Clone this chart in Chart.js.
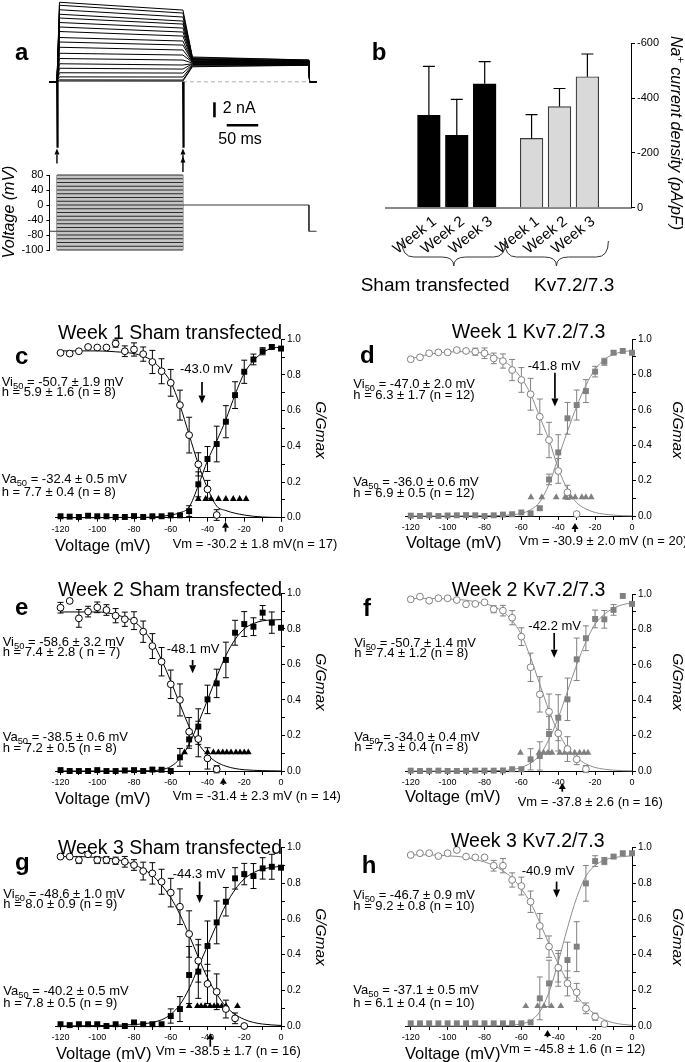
<!DOCTYPE html>
<html>
<head>
<meta charset="utf-8">
<title>Na+ current density and G/Gmax curves</title>
<script src="https://cdn.jsdelivr.net/npm/chart.js"></script>
<style>
  html, body { margin: 0; padding: 0; background: #fff; }
  body { position: relative; width: 685px; height: 1062px; overflow: hidden; font-family: Arial, "Liberation Sans", Helvetica, sans-serif; }
  canvas { position: absolute; }
  .t { position: absolute; white-space: nowrap; line-height: 1; transform-origin: 0 0; color: #000; }
  .sub { font-size: 0.72em; vertical-align: -0.3em; line-height: 0; }
  .sup { font-size: 0.7em; vertical-align: 0.5em; line-height: 0; }
</style>
</head>
<body>
<script>
// ---------- panel a: K+ current family (nA) and step protocol (mV) ----------
const stepPeak = [10.6, 10.2, 9.6, 9.0, 8.5, 7.9, 7.3, 6.7, 5.9, 5.3, 4.6, 3.8, 3.1, 2.4, 1.8, 1.2, 0.65, 0.25, 0.1];
const stepEnd = [9.56, 9.16, 8.63, 8.09, 7.69, 7.16, 6.63, 6.09, 5.43, 4.89, 4.23, 3.56, 2.89, 2.23, 1.69, 1.16, 0.63, 0.23, 0.09];
const tailStart = [3.3, 3.2, 3.1, 3.0, 3.0, 2.9, 2.9, 2.8, 2.7, 2.7, 2.6, 2.6, 2.5, 2.4, 2.4, 2.3, 2.2, 2.1, 2.0];
const tailEnd = [2.9, 2.9, 2.8, 2.8, 2.7, 2.7, 2.7, 2.6, 2.6, 2.6, 2.5, 2.5, 2.4, 2.4, 2.4, 2.3, 2.3, 2.2, 2.2];
const naSpike = [-8.7, -8.7];
const stepVolts = [-120, -110, -100, -90, -80, -70, -60, -50, -40, -30, -20, -10, 0, 10, 20, 30, 40, 50, 60, 70, 80];
const holdV = -70;
const postV = 0;
const protoTimes = [-12, 0, 200, 400, 412];
const protoTicks = [-120, -80, -40, 0, 40, 80];
const protoTickLabels = ['-100', '-80', '-40', '0', '40', '80'];

// ---------- panel b: Na+ current density (pA/pF) ----------
const weekLabels = ['Week 1', 'Week 2', 'Week 3'];
const groupLabels = ['Sham transfected', 'Kv7.2/7.3'];
const shamDensity = [-337, -264, -452];
const shamDensityErr = [179, 131, 81];
const kvDensity = [-253, -369, -478];
const kvDensityErr = [87, 66, 83];
const densityTicks = [-600, -400, -200, 0];

// ---------- panels c-h: G/Gmax vs voltage ----------
const vSteps = [-120, -115, -110, -105, -100, -95, -90, -85, -80, -75, -70, -65, -60, -55, -50, -45, -40, -35, -30, -25, -20, -15, -10, -5, 0];
const fitV = [-120, -110, -100, -90, -80, -75, -70, -65, -60, -55, -50, -45, -40, -35, -30, -25, -20, -15, -10, -5, 0];
const ivXTicks = [-120, -110, -100, -90, -80, -70, -60, -50, -40, -30, -20, -10, 0];
const ivYTicks = [0, 0.1, 0.2, 0.3, 0.4, 0.5, 0.6, 0.7, 0.8, 0.9, 1.0];
const junctionV = [-43.0, -41.8, -48.1, -42.2, -44.3, -40.9];
const restVm = [-30.2, -30.9, -31.4, -37.8, -38.5, -45.8];

// c: week 1 sham
const cInact = [0.924, 0.920, 0.933, 0.957, 0.954, 0.954, 0.976, 0.933, 0.943, 0.917, 0.873, 0.821, 0.756, 0.631, 0.463, 0.299, 0.159, 0.015];
const cInactErr = [0, 0, 0, 0, 0, 0, 0.02, 0.03, 0.037, 0.04, 0.065, 0.07, 0.075, 0.084, 0.1, 0.065, 0.05, 0.03];
const cAct = [0.008, 0.006, 0.004, 0.011, 0.008, 0.008, 0.004, 0.004, 0.009, 0.004, 0.008, 0.008, 0.013, 0.013, 0.037, 0.187, 0.329, 0.413, 0.538, 0.687, 0.818, 0.887, 0.933, 0.957, 0.948];
const cActErr = [0, 0, 0, 0, 0, 0, 0, 0, 0, 0, 0, 0, 0, 0.01, 0.03, 0.07, 0.07, 0.1, 0.09, 0.075, 0.065, 0.03, 0.02, 0.01, 0];
const cTriV = [-45, -41, -38, -34, -30, -26, -22.5, -19];
const cTriY = [0.105, 0.105, 0.105, 0.105, 0.105, 0.105, 0.105, 0.105];
const cInactFit = [0.935, 0.935, 0.935, 0.93, 0.92, 0.905, 0.88, 0.83, 0.76, 0.63, 0.465, 0.30, 0.165, 0.065, 0.04, 0.025, 0.015, 0.008, 0.004, 0.002, 0.001];
const cActFit = [0, 0, 0, 0.001, 0.002, 0.002, 0.003, 0.008, 0.015, 0.028, 0.06, 0.18, 0.32, 0.43, 0.55, 0.69, 0.81, 0.88, 0.925, 0.95, 0.955];

// d: week 1 Kv7.2/7.3
const dInact = [0.887, 0.898, 0.921, 0.926, 0.926, 0.939, 0.934, 0.930, 0.921, 0.892, 0.877, 0.826, 0.770, 0.689, 0.562, 0.430, 0.255, 0.134, 0.011];
const dInactErr = [0, 0, 0, 0, 0, 0, 0.01, 0.02, 0.03, 0.03, 0.04, 0.06, 0.07, 0.09, 0.1, 0.1, 0.07, 0.04, 0];
const dAct = [0.002, 0, 0.004, 0, 0.003, 0.004, 0.005, 0.004, 0, 0.004, 0.008, 0.01, 0.02, 0.015, 0.044, 0.207, 0.36, 0.553, 0.628, 0.707, 0.817, 0.873, 0.924, 0.934, 0.924];
const dActErr = [0, 0, 0, 0, 0, 0, 0, 0, 0, 0, 0, 0, 0, 0, 0.01, 0.03, 0.1, 0.09, 0.085, 0.065, 0.03, 0.02, 0.01, 0, 0];
const dTriV = [-54.8, -48.9, -41.1, -36.2, -33.3, -30.8, -27.2, -25, -22.1];
const dTriY = [0.106, 0.106, 0.106, 0.106, 0.106, 0.106, 0.106, 0.106, 0.106];
const dInactFit = [0.89, 0.915, 0.928, 0.93, 0.92, 0.905, 0.88, 0.84, 0.78, 0.69, 0.56, 0.43, 0.27, 0.15, 0.075, 0.04, 0.02, 0.01, 0.005, 0.002, 0.001];
const dActFit = [0, 0, 0, 0.001, 0.002, 0.002, 0.003, 0.007, 0.015, 0.035, 0.08, 0.18, 0.33, 0.48, 0.62, 0.74, 0.83, 0.885, 0.915, 0.93, 0.935];

// e: week 2 sham
const eInact = [0.919, 0.957, 0.859, 0.897, 0.921, 0.906, 0.874, 0.854, 0.846, 0.784, 0.703, 0.615, 0.488, 0.400, 0.221, 0.180, 0.071, 0.010];
const eInactErr = [0.03, 0, 0.05, 0.03, 0.03, 0.03, 0.04, 0.04, 0.05, 0.06, 0.07, 0.08, 0.08, 0.09, 0.08, 0.1, 0.06, 0.02];
const eAct = [0.005, 0, 0, 0, 0.005, 0, 0, 0.003, 0.005, 0, 0.008, 0.007, 0, 0.077, 0.178, 0.25, 0.403, 0.493, 0.625, 0.778, 0.827, 0.812, 0.891, 0.835, 0.806];
const eActErr = [0, 0, 0, 0, 0, 0, 0, 0, 0, 0, 0, 0, 0, 0.05, 0.05, 0.1, 0.08, 0.08, 0.1, 0.07, 0.07, 0.05, 0.04, 0.06, 0];
const eTriV = [-52.5, -40, -36.8, -34.1, -31.7, -29.5, -27.2, -24.5, -22.3, -20, -17.8];
const eTriY = [0.105, 0.105, 0.105, 0.105, 0.105, 0.105, 0.105, 0.105, 0.105, 0.105, 0.105];
const eInactFit = [0.895, 0.895, 0.895, 0.88, 0.84, 0.795, 0.725, 0.625, 0.505, 0.375, 0.25, 0.155, 0.09, 0.05, 0.027, 0.014, 0.007, 0.004, 0.002, 0.001, 0];
const eActFit = [0, 0, 0, 0, 0.001, 0.001, 0.002, 0.008, 0.025, 0.07, 0.15, 0.27, 0.40, 0.53, 0.65, 0.74, 0.80, 0.83, 0.845, 0.85, 0.852];

// f: week 2 Kv7.2/7.3
const fInact = [0.970, 0.985, 0.962, 0.976, 0.976, 0.966, 0.942, 0.944, 0.953, 0.914, 0.906, 0.866, 0.759, 0.586, 0.433, 0.335, 0.213, 0.124, 0.066, 0.011];
const fInactErr = [0, 0, 0, 0, 0, 0, 0, 0, 0, 0.02, 0.03, 0.04, 0.05, 0.08, 0.1, 0.1, 0.1, 0.07, 0.03, 0.02];
const fAct = [0.002, 0, 0.001, 0.002, 0, 0, 0.001, 0.002, 0.002, 0.002, 0.003, 0.01, 0.01, 0.066, 0.085, 0.209, 0.301, 0.405, 0.631, 0.75, 0.859, 0.857, 0.91, 0.989, 0.944];
const fActErr = [0, 0, 0, 0, 0, 0, 0, 0, 0, 0, 0, 0, 0, 0.06, 0.08, 0.1, 0.13, 0.12, 0.12, 0.07, 0.05, 0.05, 0.03, 0, 0];
const fTriV = [-60.5, -50.4, -47.9, -45.5, -43.4, -39.2, -36.5, -33.8, -31.1, -28.4, -26, -23.9];
const fTriY = [0.103, 0.103, 0.103, 0.103, 0.103, 0.103, 0.103, 0.103, 0.103, 0.103, 0.103, 0.103];
const fInactFit = [0.975, 0.975, 0.972, 0.965, 0.945, 0.93, 0.90, 0.85, 0.77, 0.64, 0.49, 0.34, 0.22, 0.13, 0.075, 0.04, 0.02, 0.01, 0.005, 0.002, 0.001];
const fActFit = [0, 0, 0, 0, 0.001, 0.002, 0.003, 0.008, 0.02, 0.045, 0.09, 0.18, 0.30, 0.45, 0.60, 0.73, 0.83, 0.885, 0.92, 0.94, 0.95];

// g: week 3 sham
const gInact = [0.950, 0.950, 0.931, 0.963, 0.931, 0.931, 0.927, 0.921, 0.903, 0.869, 0.856, 0.809, 0.748, 0.669, 0.516, 0.366, 0.236, 0.192, 0.095, 0.043, 0.0];
const gInactErr = [0, 0, 0.02, 0, 0.02, 0.02, 0.02, 0.03, 0.03, 0.05, 0.06, 0.07, 0.08, 0.1, 0.13, 0.12, 0.11, 0.1, 0.05, 0.03, 0];
const gAct = [0.01, 0.005, 0.01, 0.01, 0.01, 0, 0.01, 0, 0.02, 0.01, 0.01, 0.01, 0.056, 0.095, 0.286, 0.305, 0.449, 0.581, 0.697, 0.828, 0.852, 0.841, 0.884, 0.893, 0.888];
const gActErr = [0, 0, 0, 0, 0, 0, 0, 0, 0, 0, 0, 0, 0.04, 0.07, 0.16, 0.15, 0.14, 0.12, 0.08, 0.06, 0.06, 0.07, 0.06, 0.07, 0];
const gTriV = [-50, -45.5, -43.5, -41.3, -38.6, -36.4, -34.4, -32.2, -29.9, -23.7];
const gTriY = [0.112, 0.112, 0.112, 0.112, 0.112, 0.112, 0.112, 0.112, 0.112, 0.112];
const gInactFit = [0.95, 0.95, 0.945, 0.935, 0.905, 0.88, 0.845, 0.79, 0.72, 0.625, 0.51, 0.385, 0.27, 0.18, 0.11, 0.065, 0.037, 0.02, 0.011, 0.006, 0.003];
const gActFit = [0, 0.001, 0.002, 0.004, 0.008, 0.012, 0.02, 0.035, 0.065, 0.12, 0.21, 0.33, 0.45, 0.57, 0.68, 0.765, 0.825, 0.86, 0.88, 0.89, 0.895];

// h: week 3 Kv7.2/7.3
const hInact = [0.959, 0.969, 0.969, 0.953, 0.969, 0.987, 0.950, 0.946, 0.946, 0.899, 0.899, 0.819, 0.785, 0.697, 0.561, 0.445, 0.327, 0.239, 0.189, 0.099, 0.052, 0.011];
const hInactErr = [0, 0, 0, 0, 0, 0, 0, 0, 0, 0.03, 0.04, 0.04, 0.05, 0.06, 0.07, 0.06, 0.08, 0.07, 0.05, 0.03, 0.02, 0];
const hAct = [0.015, 0.015, 0.015, 0.015, 0.015, 0.015, 0.015, 0.015, 0.015, 0.015, 0.015, 0.015, 0.015, 0.02, 0.155, 0.239, 0.323, 0.37, 0.445, 0.80, 0.925, 0.925, 0.95, 0.969, 0.969];
const hActErr = [0, 0, 0, 0, 0, 0, 0, 0, 0, 0, 0, 0, 0, 0, 0.12, 0.13, 0.1, 0.1, 0.14, 0.1, 0.03, 0.02, 0.01, 0, 0];
const hTriV = [-57.6, -51.2, -47.7, -43.7, -38.6];
const hTriY = [0.112, 0.112, 0.112, 0.112, 0.112];
const hInactFit = [0.96, 0.96, 0.955, 0.945, 0.92, 0.90, 0.87, 0.83, 0.77, 0.69, 0.58, 0.46, 0.35, 0.25, 0.17, 0.11, 0.065, 0.035, 0.018, 0.009, 0.004];
const hActFit = [0, 0, 0, 0, 0.001, 0.001, 0.002, 0.005, 0.012, 0.03, 0.08, 0.19, 0.36, 0.55, 0.72, 0.84, 0.90, 0.93, 0.945, 0.95, 0.955];

// ---------- setup ----------
Chart.defaults.font.family = 'Arial, "Liberation Sans", Helvetica, sans-serif';
Chart.defaults.color = '#000';
Chart.defaults.animation = false;
Chart.defaults.responsive = false;
Chart.defaults.plugins.legend.display = false;
Chart.defaults.plugins.tooltip.enabled = false;

function makeCanvas(left, top, w, h) {
  const c = document.createElement('canvas');
  c.width = w;
  c.height = h;
  c.style.left = left + 'px';
  c.style.top = top + 'px';
  c.style.width = w + 'px';
  c.style.height = h + 'px';
  document.body.appendChild(c);
  return c;
}

function arrow(ctx, x, yTail, yTip, headLen, headW) {
  const dir = Math.sign(yTip - yTail);
  ctx.beginPath();
  ctx.moveTo(x, yTail);
  ctx.lineTo(x, yTip - dir * headLen);
  ctx.stroke();
  ctx.beginPath();
  ctx.moveTo(x, yTip);
  ctx.lineTo(x - headW / 2, yTip - dir * headLen);
  ctx.lineTo(x + headW / 2, yTip - dir * headLen);
  ctx.closePath();
  ctx.fill();
}

// text helper: y is the baseline unless rotated (then x,y is the centre)
function txt(html, x, y, o) {
  o = o || {};
  const fs = o.size || 13;
  const d = document.createElement('div');
  d.className = 't';
  d.innerHTML = html;
  d.style.fontSize = fs + 'px';
  if (o.bold) d.style.fontWeight = 'bold';
  if (o.italic) d.style.fontStyle = 'italic';
  d.style.left = x + 'px';
  if (o.rot) {
    d.style.top = y + 'px';
    d.style.transform = 'rotate(' + o.rot + 'deg) translate(-50%, -50%)';
  } else {
    d.style.top = (y - 0.8465 * fs) + 'px';
    const ax = { s: 0, m: 50, e: 100 }[o.anchor || 's'];
    d.style.transform = 'translateX(-' + ax + '%)';
  }
  document.body.appendChild(d);
}

// ---------- panel a: traces ----------
const traceExtras = {
  id: 'traceExtras',
  afterDraw(chart, args, o) {
    const ctx = chart.ctx, xs = chart.scales.x, ys = chart.scales.y;
    ctx.save();
    ctx.strokeStyle = ctx.fillStyle = '#000';
    // 2 nA / 50 ms scale bars
    ctx.lineWidth = 2.6;
    const vx = xs.getPixelForValue(o.barT);
    ctx.beginPath();
    ctx.moveTo(vx, ys.getPixelForValue(o.barI));
    ctx.lineTo(vx, ys.getPixelForValue(o.barI + o.nA));
    ctx.stroke();
    const hy = ys.getPixelForValue(o.barI2);
    ctx.beginPath();
    ctx.moveTo(xs.getPixelForValue(o.barT2), hy);
    ctx.lineTo(xs.getPixelForValue(o.barT2 + o.ms), hy);
    ctx.stroke();
    // arrows under the step edges
    ctx.lineWidth = 1.4;
    const x0 = xs.getPixelForValue(protoTimes[1]);
    const x1 = xs.getPixelForValue(protoTimes[2]);
    arrow(ctx, x0, 163.5, 148.5, 6, 5);
    arrow(ctx, x1, 172, 148.5, 6, 5);
    arrow(ctx, x1, 160, 156.5, 6, 5);
    ctx.restore();
  }
};

const traceSets = stepPeak.map((pk, i) => ({
  data: [
    { x: protoTimes[0], y: 0 }, { x: protoTimes[1], y: 0 }, { x: 4, y: pk },
    { x: protoTimes[2], y: stepEnd[i] }, { x: 215, y: tailStart[i] },
    { x: protoTimes[3], y: tailEnd[i] }, { x: protoTimes[3] + 1, y: 0 }, { x: protoTimes[4], y: 0 }
  ],
  borderColor: '#000', borderWidth: 1, pointRadius: 0
}));
traceSets.push({ data: [{ x: -0.3, y: 0 }, { x: 0.4, y: naSpike[0] }, { x: 1.5, y: 0 }], borderColor: '#000', borderWidth: 1.5, pointRadius: 0 });
traceSets.push({ data: [{ x: 199.7, y: 0 }, { x: 200.4, y: naSpike[1] }, { x: 201.5, y: 0 }], borderColor: '#000', borderWidth: 1.5, pointRadius: 0 });
traceSets.push({ data: [{ x: protoTimes[2], y: 0 }, { x: protoTimes[4], y: 0 }], borderColor: '#b0b0b0', borderDash: [4, 3], borderWidth: 1, pointRadius: 0 });

new Chart(makeCanvas(0, 0, 345, 180), {
  type: 'line',
  data: { datasets: traceSets },
  options: {
    layout: { padding: { left: 49.4, right: 28.5, top: 0, bottom: 30 } },
    datasets: { line: { clip: false } },
    scales: {
      x: { type: 'linear', min: -12, max: 412, display: false },
      y: { type: 'linear', min: -9.1, max: 10.9, display: false }
    },
    plugins: { traceExtras: { barT: 250, barI: -4.74, nA: 2, barT2: 269.5, barI2: -5.8, ms: 50 } }
  },
  plugins: [traceExtras]
});

// ---------- panel a: protocol ----------
const protoSets = stepVolts.map(v => ({
  data: [{ x: protoTimes[1], y: v }, { x: protoTimes[2], y: v }],
  borderColor: '#2a2a2a', borderWidth: 1, pointRadius: 0
}));
protoSets[protoSets.length - 1].fill = 0;
protoSets[protoSets.length - 1].backgroundColor = '#c4c4c4';
protoSets.push({ data: [{ x: protoTimes[1], y: stepVolts[0] }, { x: protoTimes[1], y: stepVolts[stepVolts.length - 1] }], borderColor: '#555', borderWidth: 1, pointRadius: 0 });
protoSets.push({ data: [{ x: protoTimes[2], y: stepVolts[0] }, { x: protoTimes[2], y: stepVolts[stepVolts.length - 1] }], borderColor: '#555', borderWidth: 1, pointRadius: 0 });
protoSets.push({ data: [{ x: protoTimes[0], y: holdV }, { x: protoTimes[1], y: holdV }], borderColor: '#333', borderWidth: 1, pointRadius: 0 });
protoSets.push({ data: [{ x: protoTimes[2], y: postV }, { x: protoTimes[3], y: postV }, { x: protoTimes[3], y: holdV }, { x: protoTimes[4], y: holdV }], borderColor: '#333', borderWidth: 1, pointRadius: 0 });

new Chart(makeCanvas(0, 150, 345, 110), {
  type: 'line',
  data: { datasets: protoSets },
  options: {
    layout: { padding: { left: 19.4, right: 28.5, top: 25, bottom: 10 } },
    datasets: { line: { clip: false } },
    scales: {
      x: { type: 'linear', min: -12, max: 412, display: false },
      y: {
        type: 'linear', min: -120, max: 80,
        afterBuildTicks: s => { s.ticks = protoTicks.map(v => ({ value: v })); },
        ticks: { callback: (v, i) => protoTickLabels[i], font: { size: 11 }, padding: 3, autoSkip: false },
        grid: { drawOnChartArea: false, tickLength: 3, color: '#000' },
        border: { color: '#000' },
        afterFit: s => { s.width = 30; }
      }
    }
  }
});

// ---------- panel b: bars ----------
const groupShift = 3.68;
const barPos = (g, i) => 1 + i + g * groupShift;
const barTicks = [0, 1].flatMap(g => weekLabels.map((w, i) => barPos(g, i)));
const barTickLabels = [0, 1].flatMap(() => weekLabels);

const barExtras = {
  id: 'barExtras',
  afterDatasetsDraw(chart) {
    const ctx = chart.ctx, ys = chart.scales.y, xs = chart.scales.x;
    ctx.save();
    ctx.strokeStyle = '#000';
    ctx.lineWidth = 1.2;
    chart.data.datasets.forEach((ds, i) => {
      chart.getDatasetMeta(i).data.forEach((bar, j) => {
        const top = ys.getPixelForValue(ds.data[j].y - ds.errs[j]);
        ctx.beginPath();
        ctx.moveTo(bar.x, bar.y);
        ctx.lineTo(bar.x, top);
        ctx.moveTo(bar.x - 6, top);
        ctx.lineTo(bar.x + 6, top);
        ctx.stroke();
      });
    });
    // group braces
    ctx.strokeStyle = '#333';
    ctx.lineWidth = 1;
    [0, 1].forEach(g => {
      const x0 = xs.getPixelForValue(barPos(g, 0)) - 27;
      const x1 = xs.getPixelForValue(barPos(g, 2)) + 21;
      const cx = (x0 + x1) / 2, yT = 241, yM = 257, yP = 266;
      ctx.beginPath();
      ctx.moveTo(x0, yT);
      ctx.quadraticCurveTo(x0, yM, x0 + 12, yM);
      ctx.lineTo(cx - 12, yM);
      ctx.quadraticCurveTo(cx, yM, cx, yP);
      ctx.quadraticCurveTo(cx, yM, cx + 12, yM);
      ctx.lineTo(x1 - 12, yM);
      ctx.quadraticCurveTo(x1, yM, x1, yT);
      ctx.stroke();
    });
    ctx.restore();
  }
};

new Chart(makeCanvas(345, 0, 340, 300), {
  type: 'bar',
  data: {
    datasets: [
      { data: shamDensity.map((v, i) => ({ x: barPos(0, i), y: v })), errs: shamDensityErr, backgroundColor: '#000', borderColor: '#000', borderWidth: 1 },
      { data: kvDensity.map((v, i) => ({ x: barPos(1, i), y: v })), errs: kvDensityErr, backgroundColor: '#d9d9d9', borderColor: '#3a3a3a', borderWidth: 1.2 }
    ]
  },
  options: {
    layout: { padding: { left: 40.7, right: 14, top: 43.3, bottom: 32.3 } },
    datasets: { bar: { barThickness: 22.7, grouped: false } },
    scales: {
      x: {
        type: 'linear', min: 0.185, max: 7.51,
        afterBuildTicks: s => { s.ticks = barTicks.map(v => ({ value: v })); },
        ticks: { callback: (v, i) => barTickLabels[i], minRotation: 38, maxRotation: 38, autoSkip: false, font: { size: 15 }, padding: -3, labelOffset: 6 },
        grid: { display: false },
        border: { color: '#888', width: 2 },
        afterFit: s => { s.height = 60; }
      },
      y: {
        position: 'right', min: -600, max: 0, reverse: true,
        afterBuildTicks: s => { s.ticks = densityTicks.map(v => ({ value: v })); },
        ticks: { font: { size: 11 }, padding: 2 },
        grid: { drawOnChartArea: false, tickLength: 4, color: '#000' },
        border: { color: '#000' },
        afterFit: s => { s.width = 40; }
      }
    }
  },
  plugins: [barExtras]
});

// ---------- panels c-h ----------
const ivExtras = {
  id: 'ivExtras',
  beforeDatasetsDraw(chart, args, o) {
    const ctx = chart.ctx, ys = chart.scales.y;
    ctx.save();
    ctx.strokeStyle = o.color;
    ctx.lineWidth = 1;
    chart.data.datasets.forEach((ds, i) => {
      if (!ds.errs) return;
      chart.getDatasetMeta(i).data.forEach((pt, j) => {
        const e = ds.errs[j];
        if (!e) return;
        const v = ds.data[j].y;
        const y1 = ys.getPixelForValue(v + e), y2 = ys.getPixelForValue(v - e);
        ctx.beginPath();
        ctx.moveTo(pt.x, y1); ctx.lineTo(pt.x, y2);
        ctx.moveTo(pt.x - 3, y1); ctx.lineTo(pt.x + 3, y1);
        ctx.moveTo(pt.x - 3, y2); ctx.lineTo(pt.x + 3, y2);
        ctx.stroke();
      });
    });
    ctx.restore();
  },
  afterDraw(chart, args, o) {
    const ctx = chart.ctx, xs = chart.scales.x, ys = chart.scales.y, b = chart.chartArea.bottom;
    ctx.save();
    ctx.fillStyle = ctx.strokeStyle = '#000';
    ctx.lineWidth = 1.7;
    arrow(ctx, xs.getPixelForValue(o.down), ys.getPixelForValue(o.downY[0]), ys.getPixelForValue(o.downY[1]), 8, 7);
    arrow(ctx, xs.getPixelForValue(o.vm), b + o.vmOff[1], b + o.vmOff[0], 6, 7);
    ctx.restore();
  }
};

function drawIV(p) {
  const W = p.col ? 340 : 345, L = p.col ? 345 : 0;
  const padL = p.col ? 60.2 : 55, padR = p.col ? 13 : 24;
  const cTop = Math.floor(p.top) - 10;
  const H = Math.ceil(p.bottom - cTop) + 26;
  const mark = p.gray ? '#808080' : '#000';
  const line = p.gray ? '#8c8c8c' : '#000';
  const xy = (xs, ys) => ys.map((y, i) => ({ x: xs[i], y }));
  new Chart(makeCanvas(L, cTop, W, H), {
    type: 'line',
    data: {
      datasets: [
        { data: xy(vSteps, p.inact), errs: p.inactErr, showLine: false, pointStyle: 'circle', pointRadius: 3.4, pointBorderWidth: 1, pointBackgroundColor: '#fff', pointBorderColor: mark, order: 0 },
        { data: xy(vSteps, p.act), errs: p.actErr, showLine: false, pointStyle: 'rect', pointRadius: 4.2, pointBorderWidth: 0, pointBackgroundColor: mark, pointBorderColor: mark, order: 0 },
        { data: xy(p.triV, p.triY), showLine: false, pointStyle: 'triangle', pointRadius: 3.9, pointBorderWidth: 0, pointBackgroundColor: mark, pointBorderColor: mark, order: 0 },
        { data: xy(fitV, p.inactFit), borderColor: line, borderWidth: 1, pointRadius: 0, cubicInterpolationMode: 'monotone', order: 1 },
        { data: xy(fitV, p.actFit), borderColor: line, borderWidth: 1, pointRadius: 0, cubicInterpolationMode: 'monotone', order: 1 }
      ]
    },
    options: {
      layout: { padding: { left: padL, right: padR, top: p.top - cTop, bottom: H - (p.bottom - cTop) - 22 } },
      datasets: { line: { clip: false } },
      scales: {
        x: {
          type: 'linear', min: -123, max: 0,
          afterBuildTicks: s => { s.ticks = ivXTicks.map(v => ({ value: v })); },
          ticks: { callback: v => (v % 20 === 0 ? String(v) : ''), font: { size: 9 }, padding: 2, maxRotation: 0, autoSkip: false },
          grid: { drawOnChartArea: false, tickLength: 4, color: '#000' },
          border: { color: '#000' },
          afterFit: s => { s.height = 22; }
        },
        y: {
          position: 'right', min: 0, max: 1,
          afterBuildTicks: s => { s.ticks = ivYTicks.map(v => ({ value: v })); },
          ticks: { callback: v => (Math.round(v * 10) % 2 === 0 ? v.toFixed(1) : ''), font: { size: 10 }, padding: 2, autoSkip: false },
          grid: { drawOnChartArea: false, tickLength: 4, color: '#000' },
          border: { color: '#000' },
          afterFit: s => { s.width = 40; }
        }
      },
      plugins: { ivExtras: { color: mark, down: p.down, downY: p.downY, vm: p.vm, vmOff: p.vmOff } }
    },
    plugins: [ivExtras]
  });
}

const ivPanels = [
  { col: 0, top: 339.3, bottom: 517.7, gray: false, inact: cInact, inactErr: cInactErr, act: cAct, actErr: cActErr, triV: cTriV, triY: cTriY, inactFit: cInactFit, actFit: cActFit, down: junctionV[0], downY: [0.76, 0.64], vm: restVm[0], vmOff: [4, 14] },
  { col: 1, top: 339.3, bottom: 516, gray: true, inact: dInact, inactErr: dInactErr, act: dAct, actErr: dActErr, triV: dTriV, triY: dTriY, inactFit: dInactFit, actFit: dActFit, down: junctionV[1], downY: [0.81, 0.62], vm: restVm[1], vmOff: [7, 16] },
  { col: 0, top: 593.3, bottom: 771, gray: false, inact: eInact, inactErr: eInactErr, act: eAct, actErr: eActErr, triV: eTriV, triY: eTriY, inactFit: eInactFit, actFit: eActFit, down: junctionV[2], downY: [0.625, 0.55], vm: restVm[2], vmOff: [6.7, 14] },
  { col: 1, top: 594, bottom: 771, gray: true, inact: fInact, inactErr: fInactErr, act: fAct, actErr: fActErr, triV: fTriV, triY: fTriY, inactFit: fInactFit, actFit: fActFit, down: junctionV[3], downY: [0.78, 0.64], vm: restVm[3], vmOff: [12, 20.7] },
  { col: 0, top: 847.7, bottom: 1026, gray: false, inact: gInact, inactErr: gInactErr, act: gAct, actErr: gActErr, triV: gTriV, triY: gTriY, inactFit: gInactFit, actFit: gActFit, down: junctionV[4], downY: [0.81, 0.69], vm: restVm[4], vmOff: [7.3, 20.7] },
  { col: 1, top: 847.7, bottom: 1026, gray: true, inact: hInact, inactErr: hInactErr, act: hAct, actErr: hActErr, triV: hTriV, triY: hTriY, inactFit: hInactFit, actFit: hActFit, down: junctionV[5], downY: [0.81, 0.72], vm: restVm[5], vmOff: [4, 11.3] }
];
ivPanels.forEach(drawIV);

// ---------- text ----------
txt('a', 15, 60, { size: 24, bold: true });
txt('2 nA', 222.7, 113.3, { size: 16 });
txt('50 ms', 218.3, 145, { size: 16 });
txt('Voltage (mV)', 8.5, 211.7, { size: 16, italic: true, rot: -90 });

txt('b', 371.7, 60, { size: 24, bold: true });
txt('Na<span class="sup">+</span> current density (pA/pF)', 675.5, 133.3, { size: 16, italic: true, rot: 90 });
txt(groupLabels[0], 360.7, 291.5, { size: 19 });
txt(groupLabels[1], 534, 291.5, { size: 19 });

const S = '<span class="sub">50</span>';
const ivText = [
  { letter: 'c', lx: 15, lb: 364, title: 'Week 1 Sham transfected', tx: 58, tb: 339.3,
    vi: ['Vi' + S + ' = -50.7 ± 1.9 mV', 'h = 5.9 ± 1.6 (n = 8)'], vix: 1.7, vib: [386, 396],
    va: ['Va' + S + ' = -32.4 ± 0.5 mV', 'h = 7.7 ± 0.4 (n = 8)'], vax: 1.7, vab: [483.3, 496],
    mx: 180, mb: 373.3, vm: 'Vm = -30.2 ± 1.8 mV(n = 17)', vmx: 172.7, vmb: 548.3, volx: 55, volb: 550.7, gx: 321, gy: 430 },
  { letter: 'd', lx: 360, lb: 363.3, title: 'Week 1 Kv7.2/7.3', tx: 451.7, tb: 338.3,
    vi: ['Vi' + S + ' = -47.0 ± 2.0 mV', 'h = 6.3 ± 1.7 (n = 12)'], vix: 353.3, vib: [388.3, 398.8],
    va: ['Va' + S + ' = -36.0 ± 0.6 mV', 'h = 6.9 ± 0.5 (n = 12)'], vax: 353.3, vab: [486, 497],
    mx: 527.7, mb: 370, vm: 'Vm = -30.9 ± 2.0 mV (n = 20)', vmx: 519, vmb: 545, volx: 406, volb: 548.3, gx: 677.5, gy: 430 },
  { letter: 'e', lx: 15, lb: 615, title: 'Week 2 Sham transfected', tx: 58, tb: 596.7,
    vi: ['Vi' + S + ' = -58.6 ± 3.2 mV', 'h = 7.4 ± 2.8 ( n = 7)'], vix: 2.7, vib: [646.2, 656.5],
    va: ['Va' + S + ' = -38.5 ± 0.6 mV', 'h = 7.2 ± 0.5 (n = 8)'], vax: 2.7, vab: [740.7, 751.7],
    mx: 166.7, mb: 653.3, vm: 'Vm = -31.4 ± 2.3 mV (n = 14)', vmx: 172.7, vmb: 800, volx: 55, volb: 804, gx: 320.8, gy: 681.5 },
  { letter: 'f', lx: 363, lb: 616.7, title: 'Week 2 Kv7.2/7.3', tx: 451.7, tb: 596.7,
    vi: ['Vi' + S + ' = -50.7 ± 1.4 mV', 'h = 7.4 ± 1.2 (n = 8)'], vix: 354.3, vib: [647, 657.5],
    va: ['Va' + S + ' = -34.0 ± 0.4 mV', 'h = 7.3 ± 0.4 (n = 8)'], vax: 354.3, vab: [740.7, 751.5],
    mx: 528.3, mb: 630, vm: 'Vm = -37.8 ± 2.6 (n = 16)', vmx: 517.7, vmb: 806, volx: 405, volb: 801.7, gx: 678.3, gy: 681.5 },
  { letter: 'g', lx: 15, lb: 870.7, title: 'Week 3 Sham transfected', tx: 58, tb: 855,
    vi: ['Vi' + S + ' = -48.6 ± 1.0 mV', 'h = 8.0 ± 0.9 (n = 9)'], vix: 3.3, vib: [898, 908],
    va: ['Va' + S + ' = -40.2 ± 0.5 mV', 'h = 7.8 ± 0.5 (n = 9)'], vax: 3.3, vab: [995, 1006.7],
    mx: 172.7, mb: 878.3, vm: 'Vm = -38.5 ± 1.7 (n = 16)', vmx: 155.7, vmb: 1055, volx: 56, volb: 1059, gx: 320.8, gy: 936.7 },
  { letter: 'h', lx: 361.7, lb: 873.3, title: 'Week 3 Kv7.2/7.3', tx: 451, tb: 847.7,
    vi: ['Vi' + S + ' = -46.7 ± 0.9 mV', 'h = 9.2 ± 0.8 (n = 10)'], vix: 353.3, vib: [899.5, 910],
    va: ['Va' + S + ' = -37.1 ± 0.5 mV', 'h = 6.1 ± 0.4 (n = 10)'], vax: 353.3, vab: [994, 1007.3],
    mx: 521.7, mb: 875, vm: 'Vm = -45.8 ± 1.6 (n = 12)', vmx: 500.3, vmb: 1052.7, volx: 405, volb: 1059, gx: 677.5, gy: 936.7 }
];

ivText.forEach((t, k) => {
  txt(t.letter, t.lx, t.lb, { size: 24, bold: true });
  txt(t.title, t.tx, t.tb, { size: 19.5 });
  txt(t.vi[0], t.vix, t.vib[0]);
  txt(t.vi[1], t.vix, t.vib[1]);
  txt(t.va[0], t.vax, t.vab[0]);
  txt(t.va[1], t.vax, t.vab[1]);
  txt(junctionV[k].toFixed(1) + ' mV', t.mx, t.mb);
  txt(t.vm, t.vmx, t.vmb);
  txt('Voltage (mV)', t.volx, t.volb, { size: 16.5 });
  txt('G/Gmax', t.gx, t.gy, { size: 15.5, italic: true, rot: 90 });
});
</script>
</body>
</html>
